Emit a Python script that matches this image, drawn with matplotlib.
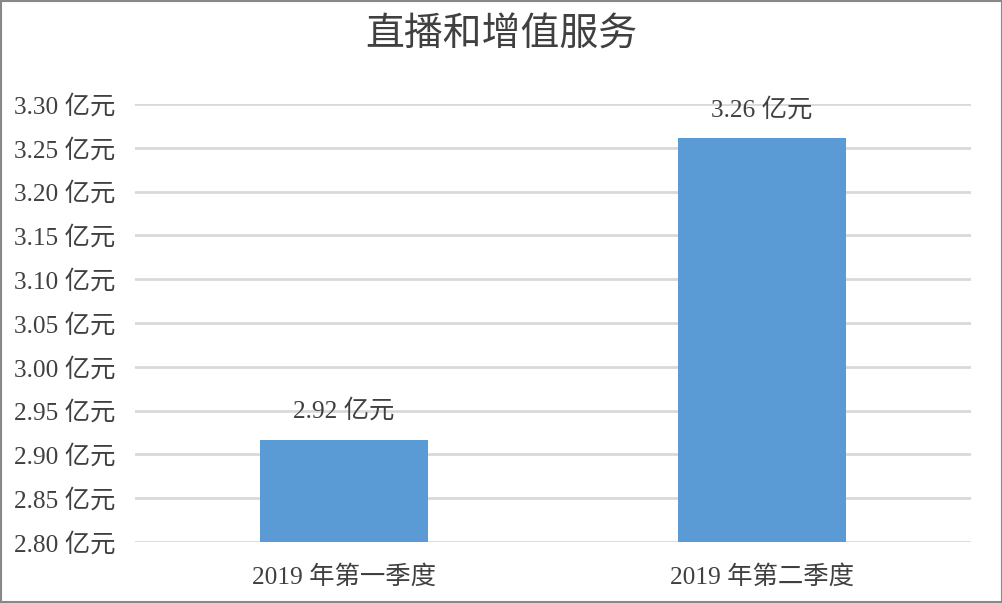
import matplotlib
matplotlib.use("Agg")
from matplotlib import pyplot as plt
from matplotlib.patches import Rectangle

plt.rcParams['font.family'] = ['Liberation Serif', 'Noto Sans CJK SC', 'DejaVu Sans']

title = '直播和增值服务'
categories = ['2019 年第一季度', '2019 年第二季度']
values = [2.917, 3.261]
value_labels = ['2.92 亿元', '3.26 亿元']
yticks = [2.80, 2.85, 2.90, 2.95, 3.00, 3.05, 3.10, 3.15, 3.20, 3.25, 3.30]

text_color = '#404040'
bar_color = '#5b9bd5'
grid_color = '#d9d9d9'

fig = plt.figure(figsize=(10.03, 6.03), dpi=100)
ax = fig.add_axes([135 / 1003, 1 - 542 / 603, 836 / 1003, 438 / 603])

x = range(len(categories))
ax.bar(x, values, width=0.4, color=bar_color, zorder=3)
for i, v in enumerate(values):
    ax.text(i, v + 0.019, value_labels[i], ha='center', va='bottom',
            fontsize=18.3, color=text_color)

ax.set_ylim(2.80, 3.30)
ax.set_xlim(-0.5, 1.5)
ax.set_yticks(yticks)
ax.set_yticklabels(['%.2f 亿元' % t for t in yticks], fontsize=18.3, color=text_color)
ax.set_xticks(list(x))
ax.set_xticklabels(categories, fontsize=18.3, color=text_color)
ax.tick_params(length=0)
ax.tick_params(axis='x', pad=17)
ax.tick_params(axis='y', pad=14)
ax.yaxis.grid(True, color=grid_color, linewidth=2)
ax.set_axisbelow(True)
for s in ax.spines.values():
    s.set_visible(False)

fig.text(0.5, 1 - 36 / 603, title, ha='center', va='center', fontsize=28, color=text_color)

# grey frame round the picture
fig.patches.append(Rectangle((0.001, 0.002), 0.998, 0.996, transform=fig.transFigure,
                             fill=False, edgecolor='#888888', linewidth=1.5))

fig.savefig('out.png', dpi=100)
